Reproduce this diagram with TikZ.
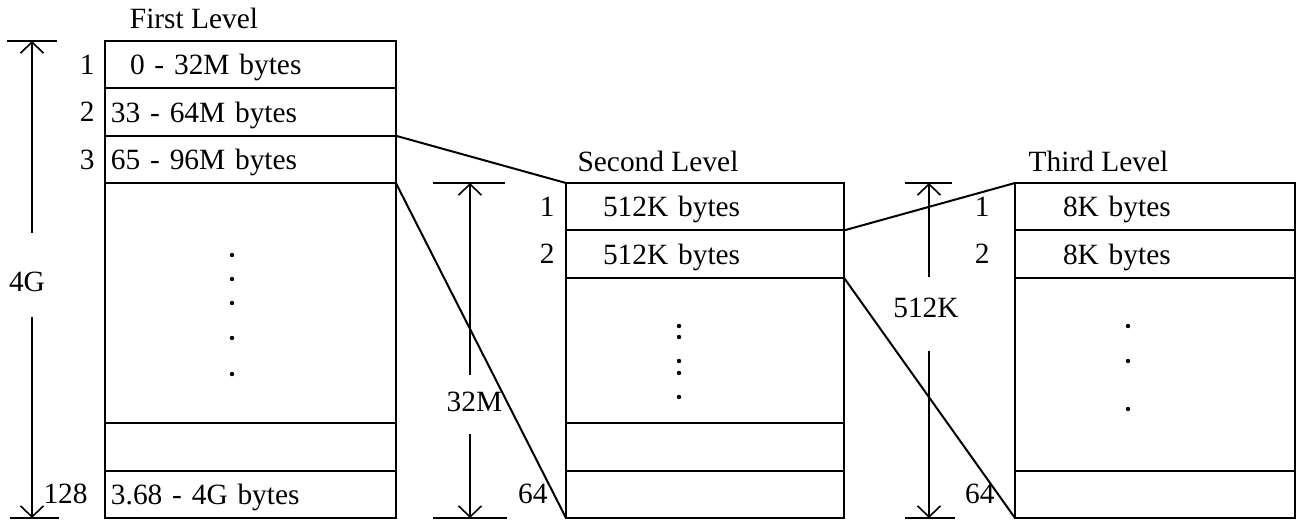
\documentclass[tikz,border=0pt]{standalone}
\usepackage{fontspec}
\setmainfont{Liberation Serif}
\usetikzlibrary{positioning,arrows.meta}

\tikzset{
  cell/.style={draw, rectangle, line width=1pt, inner ysep=0pt, outer sep=0pt,
    minimum height=23.7pt, align=left, text depth=0pt},
  lvlone/.style={cell, minimum width=145.5pt, inner xsep=3pt, text width=139.5pt},
  lvltwo/.style={cell, minimum width=139pt, inner xsep=18.5pt, text width=102pt},
  lvlthree/.style={cell, minimum width=140pt, inner xsep=24pt, text width=92pt},
  rowno/.style={inner sep=0pt},
  title/.style={inner sep=0pt},
  dimtxt/.style={inner sep=0pt},
  dimline/.style={line width=0.8pt},
  dimarrow/.style={dimline, -{Straight Barb[length=5.5pt,width=11.5pt]}},
  link/.style={line width=1pt},
}

\begin{document}
\begin{tikzpicture}[x=0.5pt, y=-0.5pt, every node/.style={font=\fontsize{14.7pt}{17pt}\selectfont}]
\useasboundingbox (0,0) rectangle (1298,521);

% first level
\node[lvlone] (f1) at (250.5,64.7) {\hspace{9.5pt}0 - 32M bytes};
\node[lvlone, below=0pt of f1] (f2) {33 - 64M bytes};
\node[lvlone, below=0pt of f2] (f3) {65 - 96M bytes};
\node[lvlone, below=0pt of f3, minimum height=120pt] (f4) {};
\node[lvlone, below=0pt of f4] (f5) {};
\node[lvlone, below=0pt of f5] (f6) {3.68 - 4G bytes};
\node[title, above=6pt of f1, xshift=-28.25pt] (ttlone) {First Level};
\node[rowno, left=5pt of f1] (fn1) {1};
\node[rowno, left=5pt of f2] (fn2) {2};
\node[rowno, left=5pt of f3] (fn3) {3};
\node[rowno, left=8.5pt of f6] (fn128) {128};
\foreach \y in {255,279,303,338,374} \fill (232,\y) circle (1.1pt);

% second level
\node[lvltwo] (s1) at (705,206.7) {512K bytes};
\node[lvltwo, below=0pt of s1] (s2) {512K bytes};
\node[lvltwo, below=0pt of s2, minimum height=72.7pt] (s3) {};
\node[lvltwo, below=0pt of s3] (s4) {};
\node[lvltwo, below=0pt of s4] (s5) {};
\node[title, above=5.5pt of s1, xshift=-23.5pt] (ttltwo) {Second Level};
\node[rowno, left=5.5pt of s1] (sn1) {1};
\node[rowno, left=5.5pt of s2] (sn2) {2};
\node[rowno, left=9pt of s5] (sn64) {64};
\foreach \y in {326,337,361,373,397} \fill (679,\y) circle (1.1pt);

% third level
\node[lvlthree] (t1) at (1155,206.7) {8K bytes};
\node[lvlthree, below=0pt of t1] (t2) {8K bytes};
\node[lvlthree, below=0pt of t2, minimum height=96.4pt] (t3) {};
\node[lvlthree, below=0pt of t3] (t4) {};
\node[title, above=5.5pt of t1, xshift=-28.25pt] (ttlthree) {Third Level};
\node[rowno, left=12.5pt of t1] (tn1) {1};
\node[rowno, left=12.5pt of t2] (tn2) {2};
\node[rowno, left=10pt of t4] (tn64) {64};
\foreach \y in {326,361,409} \fill (1128,\y) circle (1.1pt);

% size arrows
\coordinate (ftop) at (32,0 |- f1.north);
\coordinate (fbot) at (32,0 |- f6.south);
\node[dimtxt] (fsize) at (27,282) {4G};
\draw[dimline] ([xshift=-12.5pt]ftop) -- ([xshift=12.5pt]ftop);
\draw[dimline] ([xshift=-11pt]fbot) -- ([xshift=13.5pt]fbot);
\draw[dimarrow, shorten <=19.5pt] (fsize.north -| ftop) -- (ftop);
\draw[dimarrow, shorten <=12.5pt] (fsize.south -| fbot) -- (fbot);

\coordinate (stop) at (470,0 |- s1.north);
\coordinate (sbot) at (470,0 |- s5.south);
\node[dimtxt] (ssize) at (474.5,402) {32M};
\draw[dimline] ([xshift=-18.5pt]stop) -- ([xshift=17.5pt]stop);
\draw[dimline] ([xshift=-18.5pt]sbot) -- ([xshift=18.5pt]sbot);
\draw[dimarrow, shorten <=8.5pt] (ssize.north -| stop) -- (stop);
\draw[dimarrow, shorten <=11pt] (ssize.south -| sbot) -- (sbot);

\coordinate (ttop) at (929,0 |- t1.north);
\coordinate (tbot) at (929,0 |- t4.south);
\node[dimtxt] (tsize) at (926,307.5) {512K};
\draw[dimline] ([xshift=-12pt]ttop) -- ([xshift=11.5pt]ttop);
\draw[dimline] ([xshift=-12pt]tbot) -- ([xshift=13pt]tbot);
\draw[dimarrow, shorten <=10pt] (tsize.north -| ttop) -- (ttop);
\draw[dimarrow, shorten <=16.5pt] (tsize.south -| tbot) -- (tbot);

% links between levels
\draw[link] (f2.south east) -- (s1.north west);
\draw[link] (f3.south east) -- (s5.south west);
\draw[link] (s1.south east) -- (t1.north west);
\draw[link] (s2.south east) -- (t4.south west);
\end{tikzpicture}
\end{document}
